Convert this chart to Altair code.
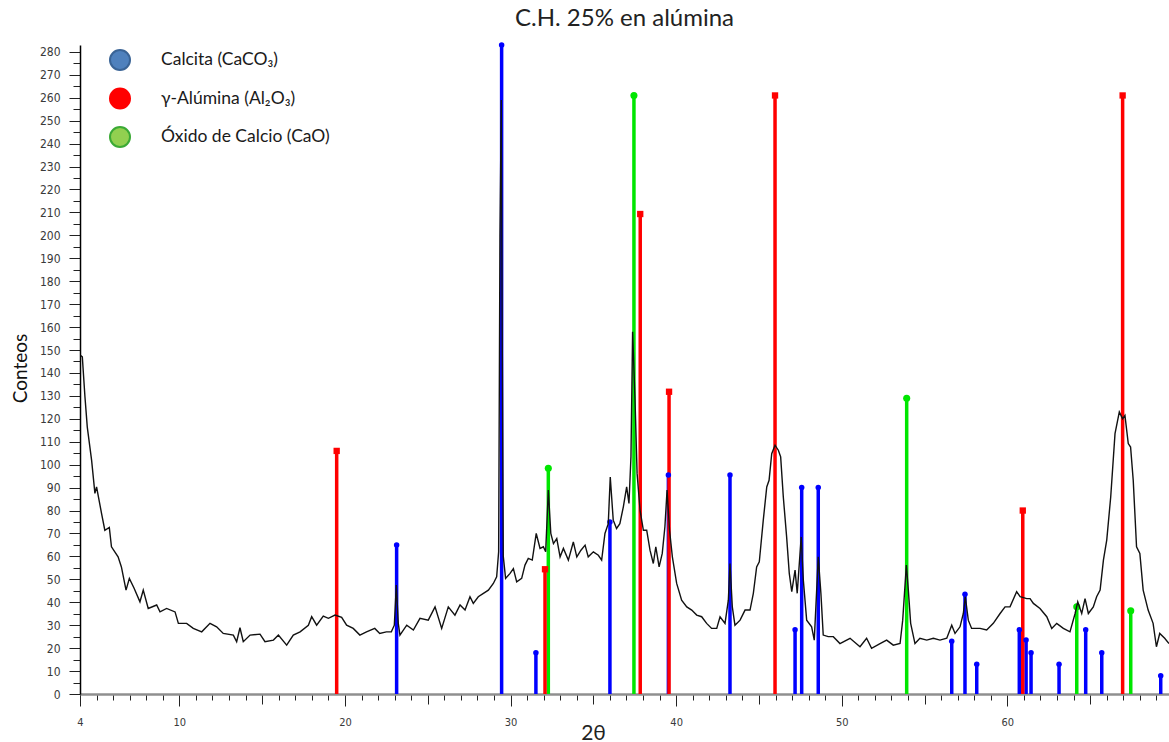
import altair as alt
import pandas as pd

# ---- diffractogram (2θ in degrees, counts) ----
two_theta = [4.04, 4.14, 4.3, 4.44, 4.7, 4.9, 5.0, 5.3, 5.5, 5.77, 5.9, 6.3, 6.5, 6.78, 6.98,
             7.26, 7.62, 7.82, 8.12, 8.63, 8.83, 9.23, 9.74, 9.94, 10.44, 10.84, 11.35, 11.85,
             12.25, 12.65, 13.26, 13.46, 13.66, 13.86, 14.27, 14.87, 15.17, 15.68, 15.98, 16.48,
             16.88, 17.29, 17.79, 17.99, 18.29, 18.69, 19.0, 19.4, 19.8, 20.1, 20.5, 20.9, 21.3,
             21.8, 22.1, 22.5, 22.8, 22.98, 23.1, 23.22, 23.32, 23.73, 24.13, 24.53, 25.03, 25.44,
             25.84, 26.24, 26.64, 26.95, 27.25, 27.55, 27.75, 28.05, 28.36, 28.66, 28.96, 29.16,
             29.28, 29.36, 29.44, 29.5, 29.56, 29.7, 29.97, 30.17, 30.37, 30.67, 30.87, 31.07,
             31.31, 31.55, 31.78, 31.98, 32.12, 32.28, 32.43, 32.59, 32.79, 32.99, 33.19, 33.49,
             33.79, 34.0, 34.25, 34.5, 34.69, 35.0, 35.3, 35.5, 35.7, 35.9, 36.02, 36.2, 36.4,
             36.6, 36.81, 37.01, 37.15, 37.27, 37.37, 37.51, 37.64, 37.82, 38.02, 38.22, 38.42,
             38.62, 38.77, 38.97, 39.16, 39.32, 39.45, 39.6, 39.77, 40.03, 40.33, 40.64, 40.94,
             41.24, 41.54, 41.84, 42.14, 42.45, 42.65, 42.95, 43.15, 43.25, 43.39, 43.55, 43.86,
             44.16, 44.46, 44.66, 44.86, 45.02, 45.26, 45.47, 45.61, 45.77, 45.97, 46.17, 46.31,
             46.47, 46.67, 46.83, 46.98, 47.18, 47.31, 47.55, 47.68, 47.88, 48.18, 48.34, 48.58,
             48.74, 48.88, 49.18, 49.49, 49.89, 50.5, 51.1, 51.5, 51.8, 52.31, 52.71, 53.11,
             53.52, 53.68, 53.9, 54.02, 54.16, 54.42, 54.72, 55.13, 55.53, 55.93, 56.34, 56.64,
             56.84, 57.14, 57.34, 57.46, 57.64, 57.84, 58.35, 58.75, 59.15, 59.56, 59.86, 60.16,
             60.56, 60.77, 61.17, 61.37, 61.57, 61.97, 62.38, 62.68, 62.98, 63.38, 63.78, 64.09,
             64.25, 64.49, 64.69, 64.89, 65.19, 65.39, 65.6, 65.8, 66.0, 66.24, 66.5, 66.76,
             66.96, 67.1, 67.3, 67.44, 67.6, 67.8, 68.0, 68.2, 68.5, 68.8, 69.0, 69.2, 69.5, 69.76]
counts = [147.6, 147.0, 129.5, 116.4, 102.0, 87.5, 90.3, 78.8, 71.4, 72.6, 64.2, 59.8, 55.4, 45.3, 50.4,
          46.2, 40.2, 45.3, 37.3, 38.8, 35.8, 37.3, 35.8, 30.8, 30.8, 28.6, 27.1, 30.8,
          29.3, 26.4, 25.7, 22.8, 28.9, 22.8, 25.7, 26.1, 22.8, 23.5, 25.7, 21.3,
          25.7, 27.1, 30.0, 33.7, 30.0, 34.0, 33.0, 34.4, 33.4, 30.0, 28.6, 25.7, 27.1,
          28.6, 26.4, 27.1, 27.1, 30.0, 47.5, 30.8, 25.7, 30.0, 27.9, 33.0, 32.2, 38.0,
          28.6, 38.0, 34.4, 38.8, 36.6, 42.4, 39.5, 42.4, 43.9, 45.3, 48.2, 51.1,
          62.0, 200.0, 259.0, 150.0, 60.0, 50.4, 52.6, 54.7, 48.9, 50.4, 56.2, 59.1,
          58.4, 70.0, 63.5, 64.2, 62.0, 88.9, 70.0, 65.6, 67.8, 59.8, 63.5, 58.4,
          66.3, 59.8, 62.7, 64.9, 59.8, 62.0, 60.5, 58.4, 70.0, 74.3, 94.6, 75.8, 72.2,
          74.3, 81.6, 90.3, 83.1, 103.4, 158.0, 129.5, 96.2, 80.1, 71.4, 71.4, 62.7,
          56.9, 64.2, 55.4, 61.3, 72.9, 88.9, 71.4, 59.8, 48.2, 40.9, 38.0, 36.6,
          34.4, 33.7, 30.8, 28.6, 28.6, 33.7, 30.8, 40.9, 56.9, 38.0, 30.0, 32.2,
          36.6, 36.6, 43.9, 55.4, 57.6, 75.8, 90.3, 93.2, 104.8, 108.5, 106.3, 103.4,
          85.9, 68.5, 52.6, 44.6, 54.0, 43.9, 68.5, 49.6, 32.2, 29.3, 23.5, 59.8,
          43.9, 25.7, 25.0, 25.0, 22.0, 24.3, 20.6, 24.3, 19.9, 22.0, 23.5, 21.3,
          22.0, 32.2, 56.2, 45.3, 30.8, 22.0, 24.3, 23.5, 24.3, 23.5, 24.3, 30.0,
          26.4, 29.3, 35.1, 42.4, 32.2, 28.6, 28.6, 27.9, 30.8, 35.1, 38.0, 38.0,
          44.6, 42.4, 41.6, 41.6, 39.5, 37.3, 33.7, 28.6, 30.8, 28.6, 27.1, 35.1,
          40.2, 35.1, 41.6, 35.1, 38.0, 42.4, 45.3, 58.4, 67.1, 85.9, 113.5, 123.0,
          120.0, 121.5, 109.2, 107.7, 93.2, 64.2, 61.3, 45.3, 36.6, 30.8, 20.6, 26.4, 24.3, 22.0]

# ---- reference patterns (stick lines) ----
phase_ids = ["calcita", "alumina", "cao"]
phase_names = ["Calcita (CaCO₃)", "γ-Alúmina (Al₂O₃)", "Óxido de Calcio (CaO)"]

calcita_2t = [23.12, 29.46, 31.53, 36.0, 39.53, 43.25, 47.18, 47.58, 48.58, 56.64, 57.44, 58.15,
              60.72, 61.13, 61.43, 63.12, 64.73, 65.7, 69.26]
calcita_i = [65, 283, 18, 75, 95.5, 95.5, 28, 90, 90, 23, 43.5, 13,
             28, 23.5, 18, 13, 28, 18, 8]

cao_2t = [32.28, 37.45, 53.92, 64.19, 67.45]
cao_i = [98.4, 261, 129, 38, 36.3]

alumina_2t = [19.5, 32.08, 37.83, 39.57, 45.97, 60.93, 66.96]
alumina_i = [106, 54.4, 209.3, 131.8, 261, 80, 261]

# ---- axis ticks ----
x_major = [4, 10, 20, 30, 40, 50, 60]
x_mid = [15, 25, 35, 45, 55, 65]
x_minor = list(range(5, 70))
y_major = list(range(0, 281, 10))
y_minor = list(range(5, 280, 10))

curve_df = pd.DataFrame({"t": two_theta, "c": counts})
sticks_df = pd.concat([
    pd.DataFrame({"phase": phase_ids[0], "t": calcita_2t, "i": calcita_i}),
    pd.DataFrame({"phase": phase_ids[2], "t": cao_2t, "i": cao_i}),
    pd.DataFrame({"phase": phase_ids[1], "t": alumina_2t, "i": alumina_i}),
], ignore_index=True)
legend_df = pd.DataFrame({"fase": phase_names})

xs = alt.Scale(domain=[4, 69.76], nice=False, zero=False)
ys = alt.Scale(domain=[0, 283], nice=False)
stick_colors = alt.Scale(domain=phase_ids, range=["#0000FF", "#FF0000", "#00E600"])

tick_font = "Liberation Sans Narrow, DejaVu Sans Condensed, Arial Narrow, sans-serif"

sticks = alt.Chart(sticks_df).mark_rule(strokeWidth=3.5).encode(
    x=alt.X("t:Q", scale=xs, axis=alt.Axis(orient="bottom", values=x_minor, tickSize=6,
                                            labels=False, domain=False, grid=False, title=None,
                                            tickColor="#222")),
    y=alt.Y("i:Q", scale=ys, axis=alt.Axis(orient="left", values=y_minor, tickSize=7,
                                            labels=False, domain=False, grid=False, title=None,
                                            tickColor="#222")),
    y2=alt.datum(0),
    color=alt.Color("phase:N", scale=stick_colors, legend=None),
)

markers = alt.Chart(sticks_df).mark_point(filled=True, opacity=1).encode(
    x=alt.X("t:Q", scale=xs, axis=alt.Axis(orient="bottom", values=x_mid, tickSize=10,
                                            labels=False, domain=False, grid=False, title=None,
                                            tickColor="#222")),
    y=alt.Y("i:Q", scale=ys, axis=None),
    color=alt.Color("phase:N", scale=stick_colors, legend=None),
    shape=alt.Shape("phase:N", scale=alt.Scale(domain=phase_ids, range=["circle", "square", "circle"]),
                    legend=None),
    size=alt.Size("phase:N", scale=alt.Scale(domain=phase_ids, range=[30, 50, 45]), legend=None),
)

curve = alt.Chart(curve_df).mark_line(color="#111111", strokeWidth=1.4).encode(
    x=alt.X("t:Q", scale=xs, axis=alt.Axis(orient="bottom", values=x_major, tickSize=12,
                                            labelPadding=10, labelFlush=False, grid=False,
                                            domainColor="#8f8f8f", domainWidth=2.5,
                                            tickColor="#222", labelFont=tick_font,
                                            labelFontSize=11, labelColor="#3a3a3a",
                                            title="2θ", titleX=513, titleY=39,
                                            titleBaseline="middle", titleAlign="center",
                                            titleFont="Lato", titleFontSize=21,
                                            titleFontWeight="normal", titleColor="#222")),
    y=alt.Y("c:Q", scale=ys, axis=alt.Axis(orient="left", values=y_major, tickSize=11,
                                            labelPadding=9, labelFlush=False, grid=False,
                                            domainColor="#000000", domainWidth=1.5,
                                            tickColor="#222", labelFont=tick_font,
                                            labelFontSize=12, labelColor="#3a3a3a",
                                            title="Conteos", titleX=-60, titleY=323,
                                            titleBaseline="middle", titleAlign="center",
                                            titleFont="Lato", titleFontSize=19,
                                            titleFontWeight="normal", titleColor="#111")),
)

legend_props = dict(orient="none", legendX=29, legendY=4, title=None)

# legend-only layer: invisible zero-size points, the legend shows the phases
legend_layer = alt.Chart(legend_df).mark_point(filled=True, size=0, strokeWidth=0).encode(
    fill=alt.Fill("fase:N", scale=alt.Scale(domain=phase_names,
                                            range=["#4F81BD", "#FF0000", "#92D050"]),
                  legend=alt.Legend(**legend_props)),
    stroke=alt.Stroke("fase:N", scale=alt.Scale(domain=phase_names,
                                                range=["#3A6496", "#FF0000", "#3BAA35"]),
                      legend=alt.Legend(**legend_props)),
)

chart = alt.layer(sticks, markers, curve, legend_layer).resolve_axis(
    x="independent", y="independent"
).properties(
    width=1089,
    height=649,
    title=alt.TitleParams("C.H. 25% en alúmina", font="Lato", fontSize=24,
                          fontWeight="normal", color="#222", offset=11, anchor="middle"),
    padding={"left": 80, "top": 45, "right": 0, "bottom": 48},
    autosize=alt.AutoSizeParams(type="none"),
    background="white",
).configure_view(stroke=None).configure_legend(
    symbolType="circle", symbolSize=400, symbolStrokeWidth=2, symbolOpacity=1,
    labelFont="Lato", labelFontSize=17.5, labelColor="#1a1a1a", labelLimit=400,
    labelOffset=30, rowPadding=10.5, padding=0,
)

chart.save("out.html", embed_options={"renderer": "svg", "actions": False})
